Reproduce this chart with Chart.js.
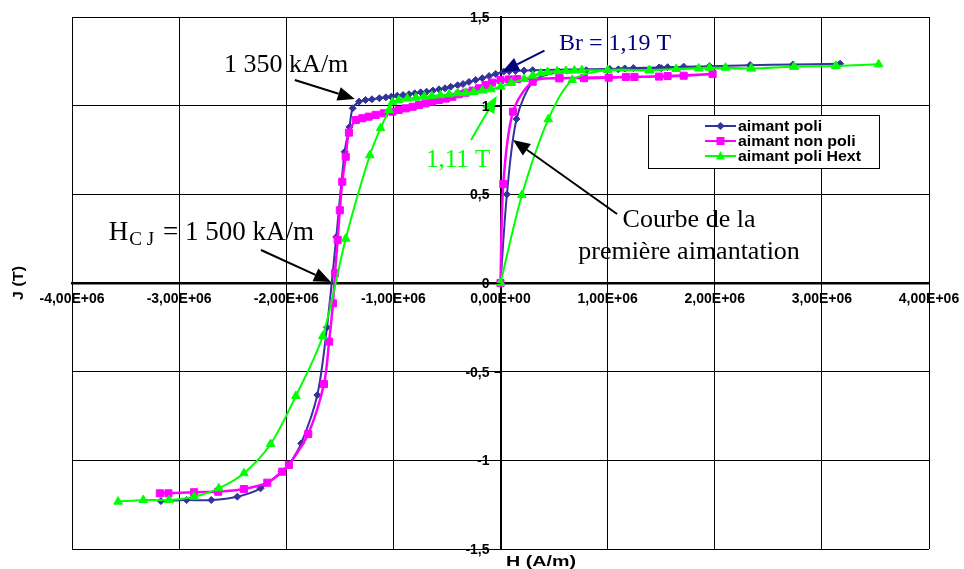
<!DOCTYPE html>
<html>
<head>
<meta charset="utf-8">
<script src="https://cdn.jsdelivr.net/npm/chart.js@4"></script>
<style>
  html, body { margin: 0; padding: 0; background: #fff; }
  #wrap { width: 964px; height: 569px; }
</style>
</head>
<body>
<div id="wrap"><canvas id="bh" width="964" height="569"></canvas></div>
<script>
// H in A/m, J in T
const hPoli = [0, 0.06e6, 0.15e6, 0.31e6, 0.55e6, 0.80e6, 1.1e6, 1.5e6, 1.95e6, 2.33e6, 2.73e6, 3.17e6,
  2.73e6, 2.33e6, 1.95e6, 1.71e6, 1.56e6, 1.48e6, 1.24e6, 1.16e6, 1.02e6, 0.30e6, 0.22e6, 0.14e6, 0.08e6, 0.03e6,
  -0.045e6, -0.107e6, -0.17e6, -0.232e6, -0.294e6, -0.35e6, -0.40e6, -0.465e6, -0.518e6, -0.574e6, -0.63e6,
  -0.69e6, -0.745e6, -0.80e6, -0.854e6, -0.91e6, -0.964e6, -1.02e6, -1.07e6, -1.13e6, -1.20e6, -1.26e6,
  -1.32e6, -1.38e6, -1.41e6, -1.455e6, -1.533e6, -1.62e6, -1.71e6, -1.86e6, -1.975e6, -2.043e6, -2.24e6,
  -2.457e6, -2.70e6, -2.93e6, -3.17e6];
const jPoli = [0, 0.50, 0.925, 1.14, 1.19, 1.20, 1.205, 1.212, 1.222, 1.228, 1.232, 1.237,
  1.232, 1.228, 1.222, 1.22, 1.217, 1.215, 1.212, 1.21, 1.207, 1.20, 1.198, 1.196, 1.194, 1.192,
  1.179, 1.167, 1.155, 1.145, 1.134, 1.122, 1.115, 1.107, 1.098, 1.092, 1.085,
  1.079, 1.075, 1.07, 1.064, 1.06, 1.056, 1.05, 1.047, 1.042, 1.036, 1.032,
  1.023, 0.985, 0.88, 0.74, 0.26, -0.25, -0.632, -0.904, -1.023, -1.064, -1.158,
  -1.205, -1.224, -1.224, -1.23];

const hNonPoli = [0, 0.026e6, 0.117e6, 0.30e6, 0.55e6, 0.78e6, 1.01e6, 1.25e6, 1.56e6, 1.98e6,
  1.71e6, 1.48e6, 1.17e6, 0.55e6, 0.157e6, 0.08e6, 0,
  -0.08e6, -0.14e6, -0.20e6, -0.26e6, -0.325e6, -0.39e6, -0.45e6, -0.51e6, -0.574e6, -0.637e6,
  -0.70e6, -0.76e6, -0.82e6, -0.885e6, -0.95e6, -1.01e6, -1.09e6, -1.165e6, -1.23e6, -1.29e6,
  -1.35e6, -1.415e6, -1.445e6, -1.477e6, -1.50e6, -1.52e6, -1.545e6, -1.564e6, -1.60e6, -1.648e6,
  -1.795e6, -1.975e6, -2.037e6, -2.177e6, -2.395e6, -2.635e6, -2.86e6, -3.10e6, -3.18e6];
const jNonPoli = [0, 0.558, 0.966, 1.135, 1.155, 1.155, 1.158, 1.162, 1.167, 1.178,
  1.169, 1.164, 1.162, 1.155, 1.15, 1.148, 1.145,
  1.13, 1.117, 1.098, 1.085, 1.073, 1.064, 1.05, 1.04, 1.032, 1.023,
  1.013, 1.004, 0.994, 0.985, 0.976, 0.966, 0.957, 0.948, 0.938, 0.929,
  0.919, 0.848, 0.712, 0.571, 0.41, 0.243, 0.055, -0.115, -0.33, -0.57,
  -0.852, -1.026, -1.064, -1.126, -1.162, -1.177, -1.18, -1.186, -1.186];

const hPoliHext = [0, 0.20e6, 0.446e6, 0.67e6, 1.0e6, 1.39e6, 1.85e6, 2.34e6, 2.74e6, 3.13e6, 3.53e6,
  3.13e6, 2.74e6, 2.34e6, 2.10e6, 1.95e6, 1.64e6, 1.39e6, 0.76e6, 0.69e6, 0.61e6, 0.53e6, 0.44e6,
  0.375e6, 0.30e6, 0.22e6, 0.10e6, 0,
  -0.09e6, -0.17e6, -0.25e6, -0.325e6, -0.40e6, -0.48e6, -0.56e6, -0.64e6, -0.71e6, -0.79e6,
  -0.87e6, -0.95e6, -1.01e6, -1.04e6, -1.12e6, -1.22e6, -1.445e6, -1.66e6, -1.91e6, -2.146e6,
  -2.395e6, -2.63e6, -2.86e6, -3.095e6, -3.335e6, -3.57e6];
const jPoliHext = [0, 0.496, 0.923, 1.145, 1.20, 1.20, 1.21, 1.21, 1.22, 1.224, 1.233,
  1.224, 1.22, 1.21, 1.214, 1.214, 1.207, 1.20, 1.20, 1.198, 1.196, 1.194, 1.19,
  1.183, 1.169, 1.15, 1.128, 1.107,
  1.092, 1.085, 1.077, 1.073, 1.07, 1.064, 1.059, 1.055, 1.051, 1.045,
  1.04, 1.032, 1.02, 0.976, 0.873, 0.72, 0.25, -0.30, -0.637, -0.908,
  -1.073, -1.158, -1.205, -1.224, -1.224, -1.233];

const seriesNames = ['aimant poli', 'aimant non poli', 'aimant poli Hext'];
const seriesColors = ['#333399', '#FF00FF', '#00FF00'];
const xTickLabels = ['-4,00E+06', '-3,00E+06', '-2,00E+06', '-1,00E+06', '0,00E+00',
  '1,00E+06', '2,00E+06', '3,00E+06', '4,00E+06'];
const yTickLabels = ['-1,5', '-1', '-0,5', '0', '0,5', '1', '1,5'];

function toPoints(hs, js) {
  return hs.map((h, i) => ({ x: h, y: js[i] }));
}

const serif = "'Liberation Serif', 'Times New Roman', serif";
const sans = "'Liberation Sans', Arial, sans-serif";

function arrow(ctx, x1, y1, x2, y2, color) {
  const ang = Math.atan2(y2 - y1, x2 - x1);
  const len = 17, half = 7;
  const bx = x2 - len * Math.cos(ang), by = y2 - len * Math.sin(ang);
  ctx.save();
  ctx.strokeStyle = color;
  ctx.fillStyle = color;
  ctx.lineWidth = 2;
  ctx.beginPath();
  ctx.moveTo(x1, y1);
  ctx.lineTo(bx, by);
  ctx.stroke();
  ctx.beginPath();
  ctx.moveTo(x2, y2);
  ctx.lineTo(bx + half * Math.sin(ang), by - half * Math.cos(ang));
  ctx.lineTo(bx - half * Math.sin(ang), by + half * Math.cos(ang));
  ctx.closePath();
  ctx.fill();
  ctx.restore();
}

function marker(ctx, style, x, y, color) {
  ctx.fillStyle = color;
  ctx.beginPath();
  if (style === 'rectRot') {
    ctx.moveTo(x, y - 4); ctx.lineTo(x + 4, y); ctx.lineTo(x, y + 4); ctx.lineTo(x - 4, y);
  } else if (style === 'rect') {
    ctx.rect(x - 4, y - 4, 8, 8);
  } else {
    ctx.moveTo(x, y - 5); ctx.lineTo(x + 4.5, y + 3.5); ctx.lineTo(x - 4.5, y + 3.5);
  }
  ctx.closePath();
  ctx.fill();
}

// text squeezed/stretched horizontally to the width it has in the original
function fitText(ctx, text, x, y, width) {
  const sx = width / ctx.measureText(text).width;
  ctx.save();
  ctx.translate(x, y);
  ctx.scale(sx, 1);
  ctx.fillText(text, 0, 0);
  ctx.restore();
}

const pointStyles = ['rectRot', 'rect', 'triangle'];

// annotations, legend, titles, and y tick labels left of the centred axis
const overlay = {
  id: 'overlay',
  afterDraw(chart) {
    const ctx = chart.ctx;
    const xs = chart.scales.x, ys = chart.scales.y;
    const px = v => xs.getPixelForValue(v);
    const py = v => ys.getPixelForValue(v);
    const ax = px(0);
    ctx.save();

    ctx.fillStyle = '#000';
    ctx.textBaseline = 'alphabetic';
    ctx.textAlign = 'left';
    ctx.font = '26px ' + serif;
    ctx.fillText('1 350 kA/m', px(-2.58e6), py(1.19));
    arrow(ctx, px(-1.92e6), py(1.145), px(-1.36e6), py(1.038), '#000');

    ctx.fillStyle = '#000080';
    ctx.font = '24px ' + serif;
    ctx.fillText('Br = 1,19 T', px(0.546e6), py(1.314));
    arrow(ctx, px(0.41e6), py(1.31), px(0.014e6), py(1.19), '#000080');

    ctx.fillStyle = '#00FF00';
    ctx.font = '25px ' + serif;
    ctx.fillText('1,11 T', px(-0.696e6), py(0.654));
    arrow(ctx, px(-0.275e6), py(0.807), px(-0.035e6), py(1.055), '#00FF00');

    ctx.fillStyle = '#000';
    ctx.font = '27px ' + serif;
    let tx = px(-3.656e6), ty = py(0.2425);
    ctx.fillText('H', tx, ty);
    tx += ctx.measureText('H').width + 1;
    ctx.font = '19px ' + serif;
    ctx.fillText('C J', tx, ty + 5);
    tx += ctx.measureText('C J').width + 2;
    ctx.font = '27px ' + serif;
    ctx.fillText(' = 1 500 kA/m', tx, ty);
    arrow(ctx, px(-2.236e6), py(0.186), px(-1.583e6), py(0.006), '#000');

    ctx.font = '26px ' + serif;
    ctx.textAlign = 'center';
    ctx.fillText('Courbe de la', px(1.76e6), py(0.316));
    ctx.fillText('première aimantation', px(1.76e6), py(0.135));
    arrow(ctx, px(1.088e6), py(0.389), px(0.117e6), py(0.807), '#000');

    // y ticks and labels
    ctx.fillStyle = '#000';
    ctx.strokeStyle = '#000';
    ctx.lineWidth = 1;
    ctx.font = 'bold 14px ' + sans;
    ctx.textAlign = 'right';
    ctx.textBaseline = 'middle';
    ys.ticks.forEach((t, i) => {
      const y = Math.round(py(t.value)) + 0.5;
      ctx.beginPath();
      ctx.moveTo(ax - 6, y);
      ctx.lineTo(ax, y);
      ctx.stroke();
      ctx.fillText(yTickLabels[i], ax - 11, y + 1);
    });

    // legend box
    const lx = 648, ly = 115, lw = 231, lh = 53;
    ctx.fillStyle = '#fff';
    ctx.fillRect(lx, ly, lw, lh);
    ctx.strokeStyle = '#000';
    ctx.lineWidth = 1;
    ctx.strokeRect(lx + 0.5, ly + 0.5, lw, lh);
    ctx.textAlign = 'left';
    ctx.textBaseline = 'middle';
    ctx.font = 'bold 14px ' + sans;
    const sx = 123 / ctx.measureText('aimant poli Hext').width;
    seriesNames.forEach((name, i) => {
      const ry = 126 + i * 15;
      ctx.strokeStyle = seriesColors[i];
      ctx.lineWidth = 2;
      ctx.beginPath();
      ctx.moveTo(705, ry);
      ctx.lineTo(736, ry);
      ctx.stroke();
      marker(ctx, pointStyles[i], 720.5, ry, seriesColors[i]);
      ctx.save();
      ctx.translate(738, ry + 1);
      ctx.scale(sx, 1);
      ctx.fillStyle = '#000';
      ctx.fillText(name, 0, 0);
      ctx.restore();
    });

    // axis titles
    ctx.fillStyle = '#000';
    ctx.font = 'bold 14px ' + sans;
    ctx.textAlign = 'left';
    ctx.textBaseline = 'alphabetic';
    fitText(ctx, 'H (A/m)', 506, 566, 70);
    ctx.translate(23, 300);
    ctx.rotate(-Math.PI / 2);
    fitText(ctx, 'J (T)', 0, 0, 34);
    ctx.restore();
  }
};

const tickFont = { family: sans, size: 14, weight: 'bold' };

new Chart(document.getElementById('bh'), {
  type: 'scatter',
  data: {
    datasets: [
      { label: seriesNames[0], data: toPoints(hPoli, jPoli), showLine: true, order: 3,
        borderColor: seriesColors[0], backgroundColor: seriesColors[0], borderWidth: 2,
        pointStyle: 'rectRot', pointRadius: 3.5, pointBorderWidth: 1, tension: 0.3 },
      { label: seriesNames[1], data: toPoints(hNonPoli, jNonPoli), showLine: true, order: 2,
        borderColor: seriesColors[1], backgroundColor: seriesColors[1], borderWidth: 2.5,
        pointStyle: 'rect', pointRadius: 5, pointBorderWidth: 1, tension: 0.3 },
      { label: seriesNames[2], data: toPoints(hPoliHext, jPoliHext), showLine: true, order: 1,
        borderColor: seriesColors[2], backgroundColor: seriesColors[2], borderWidth: 2,
        pointStyle: 'triangle', pointRadius: 5, pointBorderWidth: 1, tension: 0.3 }
    ]
  },
  options: {
    responsive: false,
    animation: false,
    layout: { padding: { left: 72, right: 35, top: 17, bottom: 20 } },
    plugins: {
      legend: { display: false },
      tooltip: { enabled: false }
    },
    scales: {
      x: {
        type: 'linear',
        min: -4e6,
        max: 4e6,
        position: { y: 0 },
        ticks: {
          stepSize: 1e6,
          autoSkip: false,
          maxRotation: 0,
          padding: 1,
          color: '#000',
          font: tickFont,
          callback: (v, i) => xTickLabels[i]
        },
        grid: { color: '#000', lineWidth: 1, tickLength: 7 },
        border: { color: '#000', width: 2.5 }
      },
      y: {
        type: 'linear',
        min: -1.5,
        max: 1.5,
        position: { x: 0 },
        ticks: {
          stepSize: 0.5,
          display: false
        },
        grid: { color: '#000', lineWidth: 1, drawTicks: false },
        border: { color: '#000', width: 2 }
      }
    }
  },
  plugins: [overlay]
});
</script>
</body>
</html>
